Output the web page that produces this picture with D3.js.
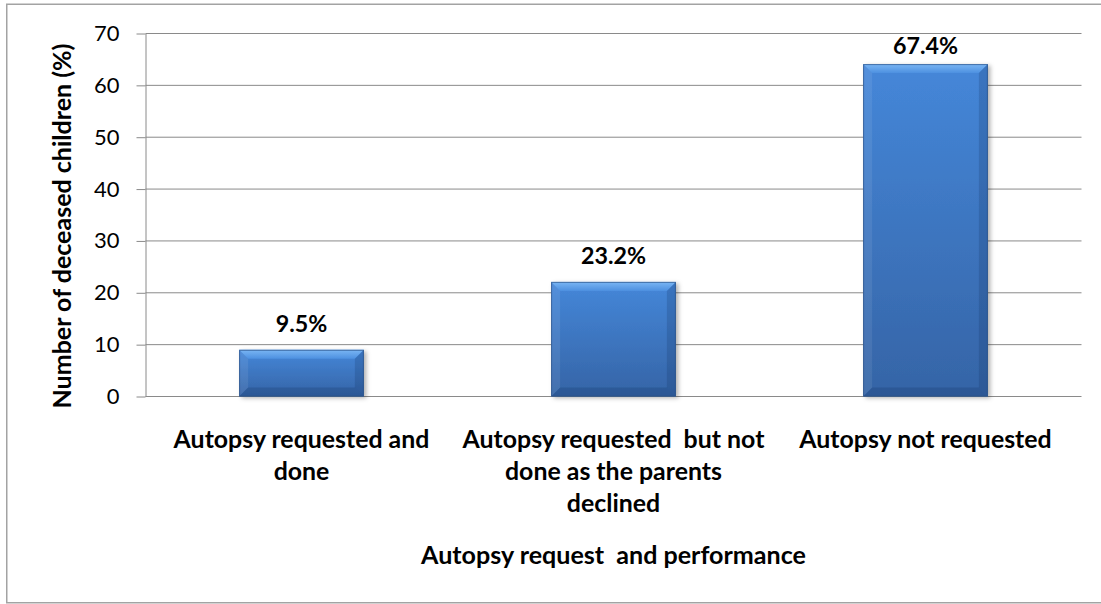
<!DOCTYPE html>
<html>
<head>
<meta charset="utf-8">
<script src="https://cdn.jsdelivr.net/npm/d3@7"></script>
<style>
  html, body { margin: 0; padding: 0; background: #fff; }
  svg { display: block; }
  text { font-family: Lato, "Open Sans", sans-serif; fill: #000; white-space: pre; }
</style>
</head>
<body>
<svg id="chart" width="1101" height="604"></svg>
<script>
// ---- data ----
const categories = [
  "Autopsy requested and done",
  "Autopsy requested  but not done as the parents declined",
  "Autopsy not requested"
];
const categoryLines = [
  ["Autopsy requested and", "done"],
  ["Autopsy requested  but not", "done as the parents", "declined"],
  ["Autopsy not requested"]
];
const values = [9.0, 22.1, 64.1];
const valueLabels = ["9.5%", "23.2%", "67.4%"];
const yTicks = [0, 10, 20, 30, 40, 50, 60, 70];
const yTitle = "Number of deceased children (%)";
const xTitle = "Autopsy request  and performance";

// ---- layout ----
const plot = { x0: 145.5, x1: 1081.5, y0: 33.5, y1: 396.5 };
const svg = d3.select("#chart");

const x = d3.scaleBand().domain(categories).range([plot.x0, plot.x1])
  .paddingInner(0.6).paddingOuter(0.3);
const y = d3.scaleLinear().domain([0, 70]).range([plot.y1, plot.y0]);

// size a font so that a reference string reaches a target width
function fitSize(str, weight, target) {
  const t = svg.append("text").style("font-weight", weight).style("font-size", "100px").text(str);
  const w = t.node().getComputedTextLength();
  t.remove();
  return 100 * target / w;
}
const catSize = fitSize("Autopsy requested and", "bold", 256);
const valSize = fitSize("23.2%", "bold", 65);
const yTitleSize = fitSize(yTitle, "bold", 365);
const xTitleSize = fitSize(xTitle, "bold", 385);
const tickSize = fitSize("70", "normal", 25.5);

// outer border
svg.append("rect").attr("x", 6.75).attr("y", 4.25).attr("width", 1110).attr("height", 598.5)
  .attr("fill", "#fff").attr("stroke", "#a3a3a3").attr("stroke-width", 1.5);

const defs = svg.append("defs");
const g1 = defs.append("linearGradient").attr("id", "barFill").attr("x1", 0).attr("y1", 0).attr("x2", 0).attr("y2", 1);
g1.append("stop").attr("offset", "0%").attr("stop-color", "#4587d9");
g1.append("stop").attr("offset", "100%").attr("stop-color", "#3564a6");
const g2 = defs.append("linearGradient").attr("id", "bevelTop").attr("x1", 0).attr("y1", 0).attr("x2", 0).attr("y2", 1);
g2.append("stop").attr("offset", "0%").attr("stop-color", "#7ab6f4");
g2.append("stop").attr("offset", "100%").attr("stop-color", "#4d90e0");
const f = defs.append("filter").attr("id", "shadow").attr("x", "-10%").attr("y", "-10%").attr("width", "130%").attr("height", "130%");
f.append("feDropShadow").attr("dx", 2.5).attr("dy", 1.5).attr("stdDeviation", 2.2)
  .attr("flood-color", "#000").attr("flood-opacity", 0.3);

// gridlines
svg.append("g").selectAll("line").data(yTicks).join("line")
  .attr("x1", plot.x0).attr("x2", plot.x1)
  .attr("y1", d => y(d)).attr("y2", d => y(d))
  .attr("stroke", "#8a8a8a").attr("stroke-width", 1);

// y axis
const yAxis = svg.append("g").attr("transform", `translate(${plot.x0},0)`)
  .call(d3.axisLeft(y).tickValues(yTicks).tickSize(9).tickPadding(17).tickSizeOuter(0));
yAxis.select(".domain").attr("stroke", "#8a8a8a");
yAxis.selectAll(".tick line").attr("stroke", "#8a8a8a");
yAxis.selectAll(".tick text").style("font-family", "Lato, sans-serif")
  .style("font-size", tickSize + "px").attr("fill", "#000");

// bars
const bev = 9;
const bars = svg.append("g").selectAll("g").data(categories).join("g");
bars.each(function (c, i) {
  const gEl = d3.select(this);
  const bx0 = x(c), bx1 = x(c) + x.bandwidth();
  const by0 = y(values[i]), by1 = y(0);
  const b = Math.min(bev, (by1 - by0) / 2);
  gEl.append("rect").attr("x", bx0).attr("y", by0).attr("width", bx1 - bx0).attr("height", by1 - by0)
    .attr("fill", "url(#barFill)").attr("filter", "url(#shadow)");
  const poly = (pts, fill, op) => gEl.append("polygon").attr("points", pts.map(p => p.join(",")).join(" "))
    .attr("fill", fill).attr("opacity", op);
  poly([[bx0, by0], [bx1, by0], [bx1 - b, by0 + b], [bx0 + b, by0 + b]], "url(#bevelTop)", 1);
  poly([[bx0, by0], [bx0 + b, by0 + b], [bx0 + b, by1 - b], [bx0, by1]], "#ffffff", 0.08);
  poly([[bx1, by0], [bx1 - b, by0 + b], [bx1 - b, by1 - b], [bx1, by1]], "#0d2c5a", 0.2);
  poly([[bx0, by1], [bx0 + b, by1 - b], [bx1 - b, by1 - b], [bx1, by1]], "#0d2c5a", 0.22);
  gEl.append("rect").attr("x", bx0 + 0.5).attr("y", by0 + 0.5).attr("width", bx1 - bx0 - 1).attr("height", by1 - by0 - 1)
    .attr("fill", "none").attr("stroke", "#2c5288").attr("stroke-width", 1).attr("opacity", 0.7);
});

// value labels
svg.append("g").selectAll("text").data(categories).join("text")
  .attr("x", (c) => x(c) + x.bandwidth() / 2)
  .attr("y", (c, i) => Math.max(y(values[i]) - 18, plot.y0 + 20))
  .attr("text-anchor", "middle")
  .style("font-weight", "bold").style("font-size", valSize + "px")
  .text((c, i) => valueLabels[i]);

// category labels
const catG = svg.append("g").selectAll("text").data(categories).join("text")
  .attr("text-anchor", "middle")
  .style("font-weight", "bold").style("font-size", catSize + "px");
catG.each(function (c, i) {
  const t = d3.select(this);
  categoryLines[i].forEach((ln, k) => {
    t.append("tspan").attr("x", x(c) + x.bandwidth() / 2).attr("y", 447.5 + k * 32.3).text(ln);
  });
});

// x title
svg.append("text").attr("x", (plot.x0 + plot.x1) / 2).attr("y", 564)
  .attr("text-anchor", "middle").style("font-weight", "bold").style("font-size", xTitleSize + "px")
  .text(xTitle);

// y title
svg.append("text").attr("transform", `translate(61,226) rotate(-90)`)
  .attr("text-anchor", "middle").attr("dominant-baseline", "central")
  .style("font-weight", "bold").style("font-size", yTitleSize + "px")
  .text(yTitle);
</script>
</body>
</html>
